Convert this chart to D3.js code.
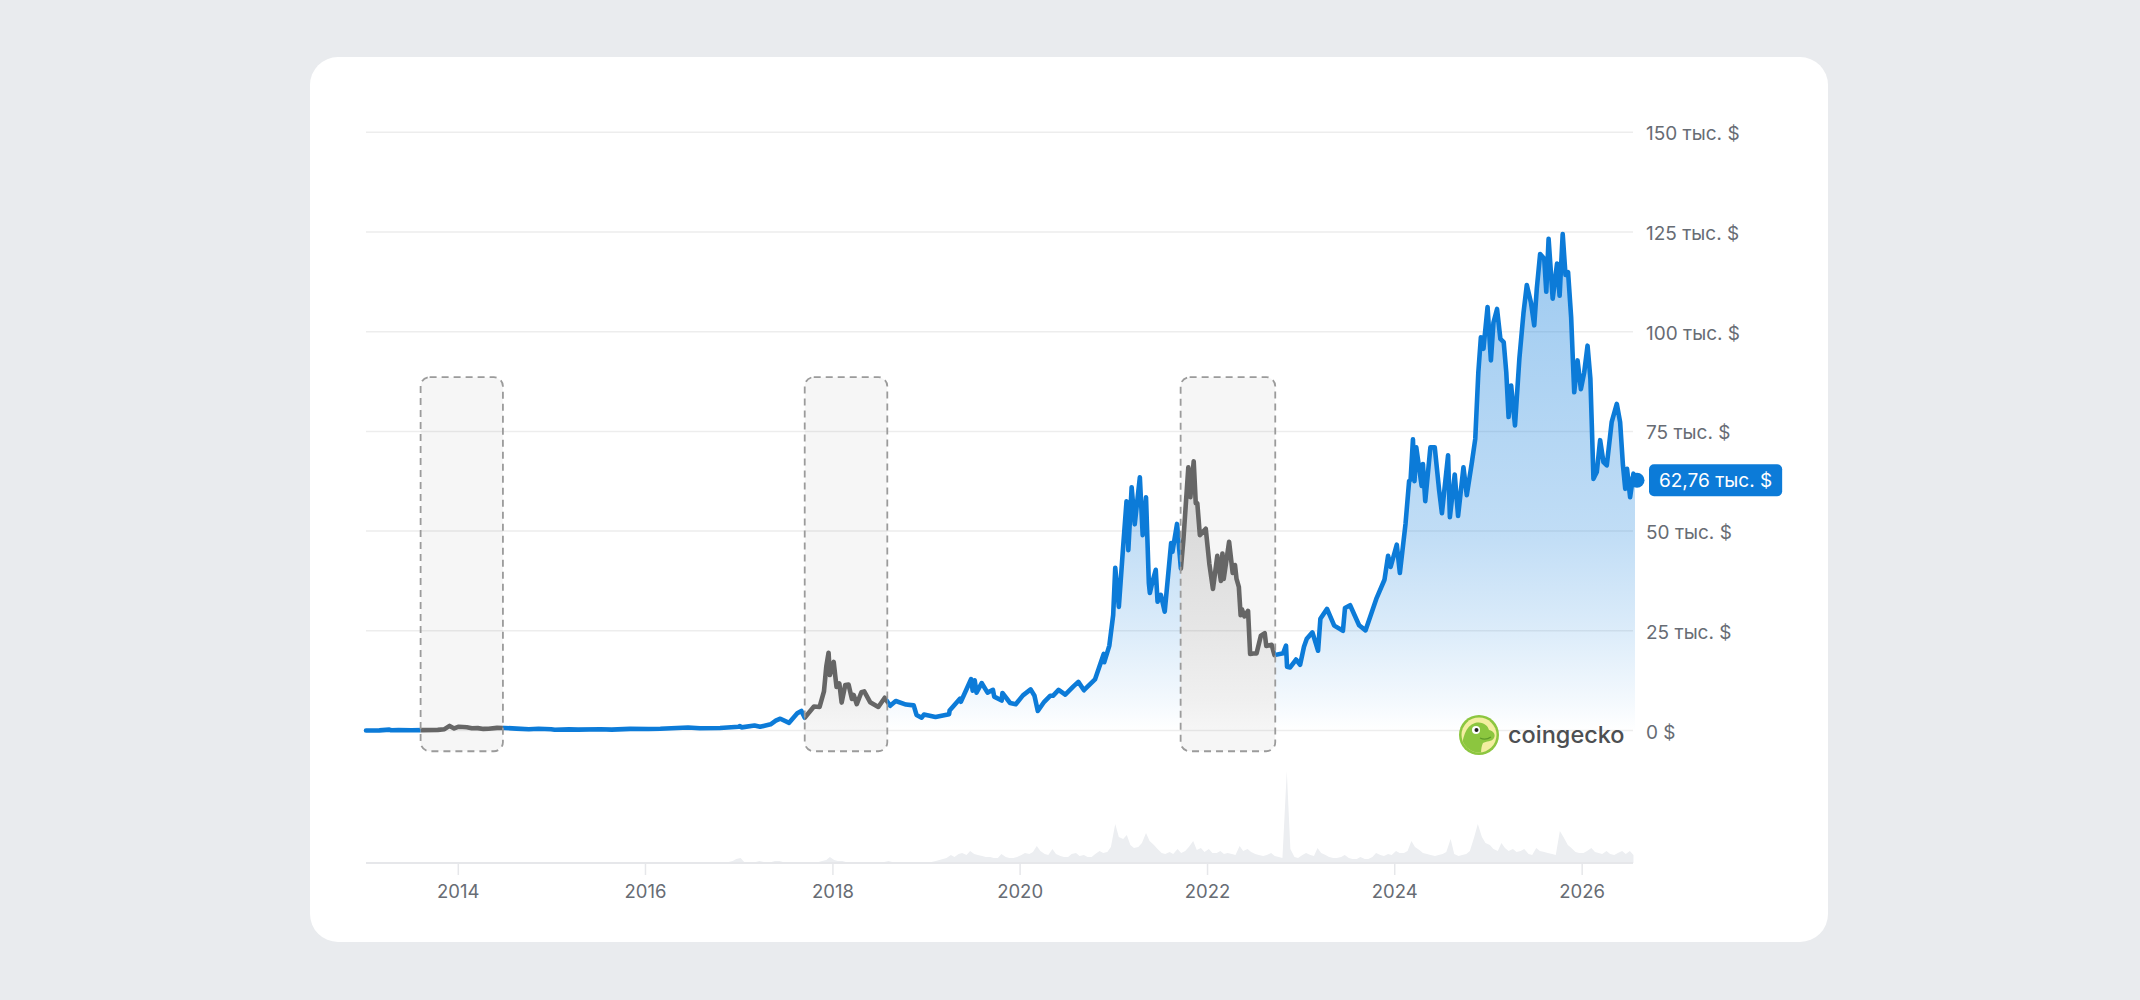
<!DOCTYPE html>
<html>
<head>
<meta charset="utf-8">
<script src="https://cdn.jsdelivr.net/npm/d3@7"></script>
<style>
  body { margin: 0; background: #e9ebee; }
  svg { display: block; font-family: Inter, "Noto Sans", sans-serif; }
</style>
</head>
<body>
<div id="chart"></div>
<script>
// price in thousands of USD
var priceDates = [
  "2013-01-08","2013-03-01","2013-04-09","2013-04-16","2013-05-15","2013-07-05","2013-08-15","2013-10-15","2013-11-10","2013-11-30",
  "2013-12-18","2014-01-05","2014-02-05","2014-02-25","2014-03-20","2014-04-11","2014-05-01","2014-06-03","2014-07-03","2014-08-18",
  "2014-10-05","2014-11-12","2014-12-31","2015-01-14","2015-03-11","2015-04-15","2015-07-12","2015-08-24","2015-11-04","2016-01-15",
  "2016-03-01","2016-06-17","2016-08-02","2016-10-20","2016-12-31","2017-01-05","2017-01-12","2017-03-03","2017-03-25","2017-05-05",
  "2017-05-25","2017-06-12","2017-07-16","2017-08-17","2017-09-02","2017-09-15","2017-10-21","2017-11-12","2017-11-29","2017-12-08",
  "2017-12-17","2017-12-22","2018-01-06","2018-01-17","2018-01-28","2018-02-06","2018-02-20","2018-03-05","2018-03-18","2018-03-25",
  "2018-04-06","2018-04-24","2018-05-05","2018-05-28","2018-06-29","2018-07-24","2018-08-14","2018-09-05","2018-10-15","2018-11-14",
  "2018-11-25","2018-12-15","2018-12-24","2019-02-07","2019-04-01","2019-04-03","2019-05-14","2019-05-17","2019-06-26","2019-07-02",
  "2019-07-10","2019-07-17","2019-08-06","2019-08-29","2019-09-19","2019-09-24","2019-10-23","2019-10-26","2019-11-25","2019-12-17",
  "2020-01-14","2020-02-13","2020-02-28","2020-03-12","2020-04-06","2020-04-29","2020-05-10","2020-06-01","2020-06-27","2020-07-28",
  "2020-08-17","2020-09-08","2020-10-21","2020-11-05","2020-11-24","2020-11-26","2020-12-16","2020-12-31","2021-01-08","2021-01-22",
  "2021-02-08","2021-02-21","2021-02-28","2021-03-13","2021-03-25","2021-04-14","2021-04-25","2021-05-08","2021-05-19","2021-05-23",
  "2021-06-01","2021-06-15","2021-06-22","2021-07-05","2021-07-20","2021-08-14","2021-08-19","2021-09-06","2021-09-21","2021-10-01",
  "2021-10-20","2021-10-28","2021-11-10","2021-11-18","2021-11-24","2021-12-04","2021-12-27","2022-01-10","2022-01-24","2022-02-10",
  "2022-02-24","2022-03-02","2022-03-07","2022-03-28","2022-04-11","2022-04-20","2022-04-26","2022-05-05","2022-05-12","2022-05-17",
  "2022-05-27","2022-06-10","2022-06-18","2022-07-01","2022-07-13","2022-07-30","2022-08-14","2022-08-20","2022-09-10","2022-09-21",
  "2022-10-25","2022-11-05","2022-11-09","2022-11-21","2022-12-14","2022-12-30","2023-01-14","2023-01-25","2023-02-16","2023-03-10",
  "2023-03-19","2023-04-14","2023-05-12","2023-06-15","2023-06-23","2023-07-13","2023-08-17","2023-09-11","2023-10-23","2023-11-24",
  "2023-12-08","2023-12-18","2024-01-11","2024-01-23","2024-02-14","2024-02-28","2024-03-05","2024-03-14","2024-03-20","2024-03-27",
  "2024-04-17","2024-04-22","2024-05-01","2024-05-21","2024-06-07","2024-06-24","2024-07-05","2024-07-29","2024-08-05","2024-08-24",
  "2024-09-06","2024-09-27","2024-10-10","2024-10-30","2024-11-12","2024-11-24","2024-12-04","2024-12-14","2024-12-30","2025-01-12",
  "2025-01-22","2025-02-05","2025-02-18","2025-03-03","2025-03-13","2025-03-22","2025-04-01","2025-04-16","2025-05-03","2025-05-19",
  "2025-06-01","2025-06-17","2025-06-30","2025-07-10","2025-07-23","2025-08-08","2025-08-16","2025-08-25","2025-09-10","2025-09-27",
  "2025-10-07","2025-10-19","2025-10-30","2025-11-09","2025-11-21","2025-11-28","2025-12-03","2025-12-16","2025-12-29","2026-01-11",
  "2026-01-24","2026-02-04","2026-02-16","2026-03-01","2026-03-14","2026-03-27","2026-04-09","2026-04-28","2026-05-18","2026-05-31",
  "2026-06-11","2026-06-20","2026-06-27","2026-07-09","2026-07-22","2026-07-28"
];
var priceValues = [
  0.014,0.034,0.23,0.07,0.12,0.07,0.10,0.15,0.33,1.15,
  0.52,0.95,0.80,0.55,0.60,0.40,0.45,0.66,0.64,0.47,
  0.32,0.42,0.32,0.18,0.29,0.22,0.30,0.21,0.40,0.38,
  0.43,0.75,0.55,0.63,0.96,1.13,0.78,1.27,0.93,1.55,
  2.45,2.95,1.93,4.30,4.90,3.20,6.00,5.90,9.80,16.0,
  19.5,13.9,17.2,10.9,11.8,7.0,11.4,11.5,7.9,8.9,
  6.6,9.6,9.8,7.1,5.9,8.2,6.2,7.4,6.5,6.3,
  3.9,3.2,4.0,3.4,4.1,5.0,8.0,7.2,12.9,10.0,
  12.6,9.5,11.9,9.5,10.2,8.5,7.5,9.4,6.9,6.6,
  8.8,10.3,8.7,4.9,7.2,8.7,8.7,10.2,9.0,11.0,
  12.2,10.1,12.8,15.6,19.2,17.1,21.3,29.0,40.8,31.0,
  46.3,57.5,45.2,61.0,51.7,63.5,49.0,58.5,37.0,34.5,
  37.0,40.3,32.3,34.0,29.8,47.0,44.8,51.8,40.6,48.0,
  66.0,58.5,67.5,57.0,57.0,49.0,50.6,41.8,35.5,43.8,
  37.5,44.4,38.0,47.3,39.5,41.5,38.0,36.0,28.9,30.4,
  28.6,30.0,19.2,19.3,19.3,23.8,24.4,21.2,21.5,18.9,
  19.4,21.3,16.0,15.8,17.8,16.5,21.0,23.0,24.6,20.0,
  28.0,30.5,26.3,25.0,30.7,31.4,26.4,25.1,33.0,37.8,
  43.8,41.0,46.6,39.5,51.8,62.5,63.0,73.0,62.5,71.0,
  61.3,66.8,57.5,71.0,71.0,60.3,54.5,69.0,53.5,64.2,
  53.8,66.0,59.0,67.3,73.1,89.8,98.6,95.7,106.2,92.8,
  102.3,105.7,98.2,97.4,89.8,78.6,86.5,76.5,93.2,104.6,
  111.7,107.4,101.6,110.8,119.5,118.3,110.0,123.3,108.3,117.1,
  109.0,124.5,114.2,114.9,103.6,92.4,84.8,92.8,85.6,89.8,
  96.5,88.2,63.1,64.8,72.8,67.3,66.5,77.3,81.9,77.3,
  66.5,60.6,65.6,58.5,64.4,62.76
];

// trading volume, two readings per month (around the 8th and the 22nd)
var volStart = "2016-11";
var volValues = [
  [0,1],[2,4],
  [5,1],[1,1],[1,2],[1,1],[1,2],[2,1],[1,1],[1,1],[1,1],[1,1],[1,2],[3,6],
  [3,2],[2,1],[1,1],[1,1],[1,1],[1,1],[1,1],[2,1],[1,1],[1,1],[1,1],[1,1],
  [1,1],[2,3],[4,5],[8,6],[9,10],[8,12],[9,8],[7,6],[6,5],[5,9],[6,5],[5,6],
  [8,10],[9,11],[17,12],[9,8],[14,9],[7,6],[6,9],[10,7],[8,6],[6,9],[12,10],[11,16],
  [39,26],[24,28],[18,15],[16,20],[30,22],[18,14],[10,9],[11,9],[14,10],[12,16],[22,13],[15,11],
  [14,10],[10,12],[9,10],[9,8],[17,12],[14,11],[9,8],[7,8],[10,7],[6,5],[92,14],[6,5],
  [8,10],[8,7],[15,10],[8,6],[5,5],[6,8],[5,4],[4,6],[4,4],[6,10],[8,7],[9,8],
  [12,10],[10,12],[22,16],[13,10],[9,8],[7,8],[9,11],[24,9],[7,8],[9,12],[26,39],[26,20],
  [18,14],[12,20],[15,12],[14,11],[12,14],[9,8],[15,12],[11,10],[9,8],[32,26],[18,15],[11,10],
  [10,12],[15,11],[10,9],[12,9],[8,10],[12,9],[12,8]
];

// shaded periods
var shadeRanges = [
  ["2013-08-09", "2014-06-26"],
  ["2017-09-15", "2018-08-03"],
  ["2021-09-20", "2022-09-24"]
];
var shadeTop = 88.6, shadeBottom = -5.2;

var yTicks = [0, 25, 50, 75, 100, 125, 150];
var lastPrice = 62.76;

// layout
var svgWidth = 2140, svgHeight = 1000;
var plotLeft = 366, plotRight = 1635, gridRight = 1633;
var priceTop = 132.3, priceBottom = 730.5;
var volBase = 863;

var parseDate = d3.utcParse("%Y-%m-%d");
var ru = d3.formatLocale({decimal: ",", thousands: "\u00a0", grouping: [3], currency: ["", " $"]});

var prices = priceDates.map(function(d, i) { return {date: parseDate(d), value: priceValues[i]}; });

var volMonths = d3.utcMonth.range(d3.utcParse("%Y-%m")(volStart), d3.utcMonth.offset(d3.utcParse("%Y-%m")(volStart), volValues.length));
var volumes = [];
volMonths.forEach(function(m, i) {
  volumes.push({date: d3.utcDay.offset(m, 7), value: volValues[i][0]});
  volumes.push({date: d3.utcDay.offset(m, 21), value: volValues[i][1]});
});

var svg = d3.select("#chart").append("svg")
  .attr("width", svgWidth)
  .attr("height", svgHeight);

// card
svg.append("rect")
  .attr("x", 310).attr("y", 57)
  .attr("width", 1518).attr("height", 885)
  .attr("rx", 28)
  .attr("fill", "#ffffff");

var x = d3.scaleUtc()
  .domain([prices[0].date, prices[prices.length - 1].date])
  .range([plotLeft, plotRight]);

var y = d3.scaleLinear()
  .domain([0, 150])
  .range([priceBottom, priceTop]);

var yVol = d3.scaleLinear()
  .domain([0, 100])
  .range([volBase, volBase - 100]);

var defs = svg.append("defs");

function addGradient(id, color, stops) {
  var g = defs.append("linearGradient")
    .attr("id", id)
    .attr("gradientUnits", "userSpaceOnUse")
    .attr("x1", 0).attr("x2", 0)
    .attr("y1", y(125)).attr("y2", y(0));
  stops.forEach(function(s) {
    g.append("stop").attr("offset", s[0]).attr("stop-color", color).attr("stop-opacity", s[1]);
  });
}
addGradient("blueFill", "#1580dc", [[0, 0.42], [0.6, 0.27], [0.8, 0.15], [0.94, 0.05], [1, 0.0]]);
addGradient("grayFill", "#5a5a5a", [[0, 0.28], [0.6, 0.17], [0.8, 0.1], [0.94, 0.04], [1, 0.0]]);

var shades = shadeRanges.map(function(r) { return {x0: x(parseDate(r[0])), x1: x(parseDate(r[1]))}; });

// clip regions: inside the shaded periods and outside them
var clipIn = defs.append("clipPath").attr("id", "clipIn");
shades.forEach(function(s) {
  clipIn.append("rect").attr("x", s.x0).attr("y", 0).attr("width", s.x1 - s.x0).attr("height", svgHeight);
});
var clipOut = defs.append("clipPath").attr("id", "clipOut");
var edges = [plotLeft - 10].concat(d3.merge(shades.map(function(s) { return [s.x0, s.x1]; }))).concat([plotRight + 10]);
for (var i = 0; i < edges.length; i += 2) {
  clipOut.append("rect").attr("x", edges[i]).attr("y", 0).attr("width", edges[i + 1] - edges[i]).attr("height", svgHeight);
}

// gridlines
svg.append("g").selectAll("line")
  .data(yTicks)
  .enter()
  .append("line")
  .attr("x1", plotLeft).attr("x2", gridRight)
  .attr("y1", d => y(d)).attr("y2", d => y(d))
  .attr("stroke", "#ededed")
  .attr("stroke-width", 1.5);

// shaded boxes background
svg.append("g").selectAll("rect")
  .data(shades)
  .enter()
  .append("rect")
  .attr("x", d => d.x0).attr("width", d => d.x1 - d.x0)
  .attr("y", y(shadeTop)).attr("height", y(shadeBottom) - y(shadeTop))
  .attr("rx", 9)
  .attr("fill", "rgba(0,0,0,0.035)");

var area = d3.area()
  .x(d => x(d.date))
  .y0(y(0))
  .y1(d => y(d.value));

var line = d3.line()
  .x(d => x(d.date))
  .y(d => y(d.value));

svg.append("path").datum(prices)
  .attr("d", area).attr("fill", "url(#blueFill)")
  .attr("clip-path", "url(#clipOut)");
svg.append("path").datum(prices)
  .attr("d", area).attr("fill", "url(#grayFill)")
  .attr("clip-path", "url(#clipIn)");

// volume
svg.append("path").datum(volumes)
  .attr("d", d3.area().x(d => x(d.date)).y0(yVol(0)).y1(d => yVol(d.value)))
  .attr("fill", "#eceef1");

svg.append("line")
  .attr("x1", plotLeft).attr("x2", gridRight)
  .attr("y1", volBase).attr("y2", volBase)
  .attr("stroke", "#e6e7ea")
  .attr("stroke-width", 2);

// price line
svg.append("path").datum(prices)
  .attr("d", line).attr("fill", "none")
  .attr("stroke", "#0c7bd8").attr("stroke-width", 4.6)
  .attr("stroke-linejoin", "round").attr("stroke-linecap", "round")
  .attr("clip-path", "url(#clipOut)");
svg.append("path").datum(prices)
  .attr("d", line).attr("fill", "none")
  .attr("stroke", "#666666").attr("stroke-width", 4.6)
  .attr("stroke-linejoin", "round")
  .attr("clip-path", "url(#clipIn)");

// dashed box outlines
svg.append("g").selectAll("rect")
  .data(shades)
  .enter()
  .append("rect")
  .attr("x", d => d.x0).attr("width", d => d.x1 - d.x0)
  .attr("y", y(shadeTop)).attr("height", y(shadeBottom) - y(shadeTop))
  .attr("rx", 9)
  .attr("fill", "none")
  .attr("stroke", "#9b9b9b")
  .attr("stroke-width", 1.8)
  .attr("stroke-dasharray", "7,5");

// x axis
var xAxis = svg.append("g")
  .attr("transform", `translate(0, ${volBase})`)
  .call(d3.axisBottom(x).ticks(d3.utcYear.every(2)).tickFormat(d3.utcFormat("%Y")).tickSize(12).tickPadding(10));
xAxis.select(".domain").remove();
xAxis.selectAll(".tick line").attr("stroke", "#e6e7ea").attr("stroke-width", 1.5);
xAxis.selectAll(".tick text")
  .attr("font-size", "18.5px")
  .attr("font-family", "Inter, 'Noto Sans', sans-serif")
  .attr("fill", "#676c74");

// y axis labels
var yAxis = svg.append("g")
  .attr("transform", "translate(1646, 1.5)")
  .call(d3.axisRight(y).tickValues(yTicks).tickSize(0).tickPadding(0)
    .tickFormat(d => d === 0 ? "0 $" : d + " тыс. $"));
yAxis.select(".domain").remove();
yAxis.selectAll(".tick text")
  .attr("font-size", "19px")
  .attr("font-family", "Inter, 'Noto Sans', sans-serif")
  .attr("fill", "#676c74");

// current price marker
var last = prices[prices.length - 1];
svg.append("circle")
  .attr("cx", x(last.date) + 2).attr("cy", y(lastPrice))
  .attr("r", 7.5)
  .attr("fill", "#0c7bd8");

var pill = svg.append("g").attr("transform", `translate(1649, ${y(lastPrice)})`);
var pillRect = pill.append("rect")
  .attr("y", -16).attr("height", 32)
  .attr("rx", 5)
  .attr("fill", "#0c7bd8");
var pillText = pill.append("text")
  .attr("x", 10).attr("dy", "0.36em")
  .attr("font-size", "19px")
  .attr("fill", "#ffffff")
  .text(ru.format(",.2f")(lastPrice) + " тыс. $");
pillRect.attr("width", pillText.node().getComputedTextLength() + 20);

// coingecko watermark
var logo = svg.append("g").attr("transform", "translate(1479, 735)");
defs.append("clipPath").attr("id", "logoClip")
  .append("circle").attr("r", 17.5);
logo.append("circle").attr("r", 20).attr("fill", "#8cc63f");
logo.append("circle").attr("r", 17.5).attr("fill", "#f3eea0");
logo.append("path")
  .attr("clip-path", "url(#logoClip)")
  .attr("d", "M-18,20 C-17,4 -14,-9 -4,-12 C4,-14 9,-9 10,-5 C14,-4 17,-1 15,3 C13,7 7,6 4,8 C2,12 2,17 2,22 Z")
  .attr("fill", "#8cc63f");
logo.append("circle").attr("cx", -3).attr("cy", -5).attr("r", 4).attr("fill", "#ffffff");
logo.append("circle").attr("cx", -2.5).attr("cy", -5).attr("r", 2).attr("fill", "#222222");
logo.append("path")
  .attr("d", "M1,3 C5,5 9,4 12,2")
  .attr("fill", "none").attr("stroke", "#5e9a2a").attr("stroke-width", 1.2);

svg.append("text")
  .attr("x", 1508).attr("y", 743)
  .attr("font-size", "23.5px")
  .attr("font-weight", 500)
  .attr("fill", "#4d4f52")
  .text("coingecko");
</script>
</body>
</html>
